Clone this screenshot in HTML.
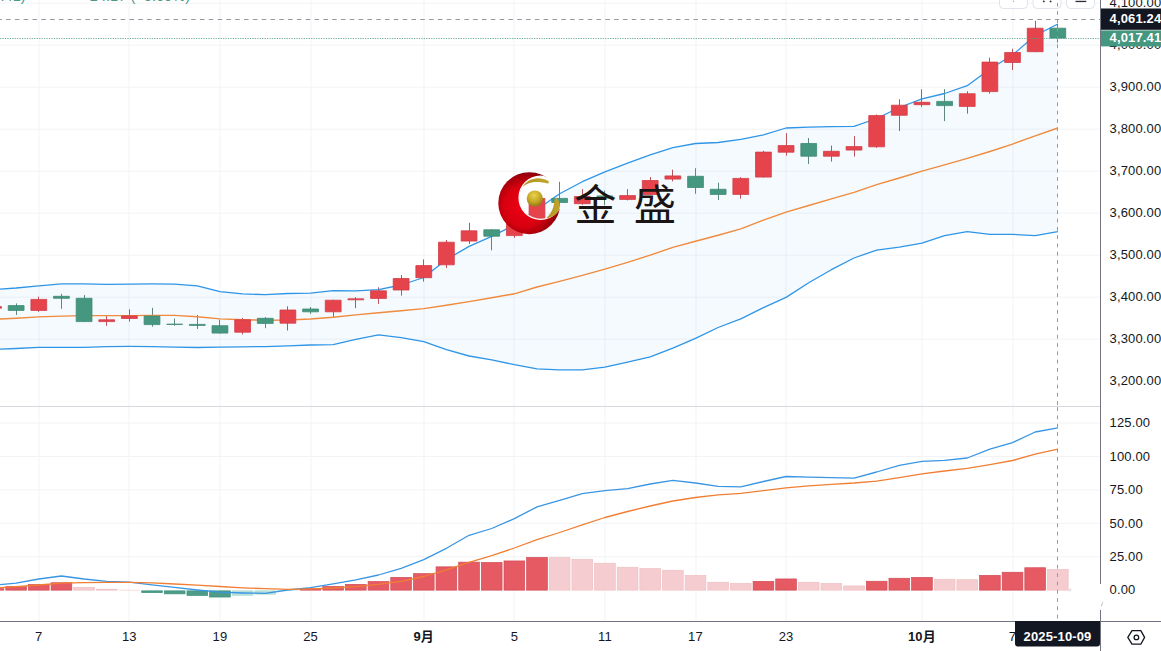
<!DOCTYPE html><html><head><meta charset="utf-8"><style>
html,body{margin:0;padding:0;background:#fff;width:1161px;height:651px;overflow:hidden}
svg{display:block}
.ax{letter-spacing:0.15px;font-family:"Liberation Sans","Noto Sans CJK SC",sans-serif;font-size:13px;fill:#131722}
</style></head><body>
<svg width="1161" height="651" viewBox="0 0 1161 651">
<defs>
<clipPath id="cm"><rect x="0" y="0" width="1100" height="406"/></clipPath>
<clipPath id="cl"><rect x="0" y="407" width="1100" height="214"/></clipPath>
<radialGradient id="rg" cx="0.42" cy="0.55" r="0.6"><stop offset="0" stop-color="#f00018"/><stop offset="0.55" stop-color="#d8000f"/><stop offset="1" stop-color="#7c0008"/></radialGradient>
<radialGradient id="gb" cx="0.45" cy="0.3" r="0.7"><stop offset="0" stop-color="#ecd24a"/><stop offset="0.6" stop-color="#c3a526"/><stop offset="1" stop-color="#8f7a12"/></radialGradient>
<linearGradient id="gs" x1="0" y1="0" x2="1" y2="0"><stop offset="0" stop-color="#b09520"/><stop offset="1" stop-color="#c2a52a"/></linearGradient>
<mask id="mk"><rect x="490" y="160" width="80" height="90" fill="#fff"/><circle cx="540.6" cy="197.7" r="21.5" fill="#000"/></mask>
</defs>
<path d="M0 3.2 H1100 M0 45.2 H1100 M0 87.2 H1100 M0 129.2 H1100 M0 171.2 H1100 M0 213.2 H1100 M0 255.2 H1100 M0 297.2 H1100 M0 339.2 H1100 M0 423.1 H1100 M0 456.5 H1100 M0 489.9 H1100 M0 523.3 H1100 M0 556.7 H1100 M39 0 V621 M129 0 V621 M220 0 V621 M311 0 V621 M424 0 V621 M514 0 V621 M605 0 V621 M696 0 V621 M786 0 V621 M922 0 V621 M1013 0 V621" stroke="#f2f3f6" stroke-width="1" fill="none"/>
<g clip-path="url(#cm)">
<polygon points="-29.14,291 16.15,288 38.8,285.8 61.44,283.9 84.09,283.9 106.73,284.3 129.38,284.1 152.02,283.9 174.67,284.1 197.31,285.8 219.96,291.7 242.61,293.8 265.25,294.7 287.89,293.5 310.54,293.2 333.19,290.6 355.83,290.9 378.48,289.6 401.12,285 423.76,277.5 446.41,259.5 469.06,246.4 491.7,236.3 514.35,225 536.99,209.5 559.63,193.8 582.28,181.7 604.92,171.8 627.57,163.1 650.21,154.8 672.86,147.6 695.5,143.5 718.15,142.5 740.79,139.4 763.44,134.8 786.08,128 808.73,127.2 831.37,126.7 854.02,126.4 876.66,118.5 899.31,107.5 921.95,98.9 944.6,93.5 967.24,85.7 989.89,69 1012.53,55 1035.18,35.5 1057.83,24 1057.83,231.7 1035.18,235.6 1012.53,234.4 989.89,234.4 967.24,231.7 944.6,235.6 921.95,243.2 899.31,247.1 876.66,250.1 854.02,258 831.37,269.7 808.73,282.8 786.08,297.4 763.44,307.7 740.79,318.8 718.15,327.5 695.5,338.4 672.86,348.2 650.21,356.9 627.57,362.1 604.92,367.2 582.28,369.9 559.63,369.9 536.99,368.8 514.35,364.7 491.7,359.8 469.06,356 446.41,349.6 423.76,341.6 401.12,337.6 378.48,334.8 355.83,339.4 333.19,344.6 310.54,345 287.89,345.9 265.25,346.6 242.61,346.8 219.96,347.1 197.31,347.5 174.67,347.1 152.02,346.6 129.38,346.4 106.73,346.6 84.09,347.4 61.44,347.3 38.8,347.3 16.15,348.5 -29.14,350.3" fill="#2196f3" fill-opacity="0.05"/>
<path d="M-6.5 305.5 V309.5 M38.5 296.6 V311.9 M106.5 315 V325.8 M129.5 309.3 V321.7 M242.5 317.9 V334.4 M287.5 306.3 V330.5 M333.5 299.8 V317.4 M355.5 297.2 V308.2 M378.5 287.3 V303.9 M401.5 275 V295.6 M423.5 259.4 V281.6 M446.5 240 V268 M469.5 222.8 V244 M514.5 220 V237.8 M536.5 195 V221 M582.5 189.1 V204.7 M627.5 189.1 V200.4 M650.5 177 V194.9 M672.5 169.7 V181.4 M740.5 177.2 V198.7 M763.5 150.7 V177.5 M786.5 133.2 V155.7 M831.5 145.6 V161.6 M854.5 136.1 V156.6 M876.5 114.5 V147.8 M899.5 99.2 V131 M921.5 89.3 V106.8 M967.5 91.2 V113.7 M989.5 57.6 V93.6 M1012.5 48.7 V70 M1035.5 20.8 V52.1" stroke="#b9555c" stroke-width="1" fill="none"/>
<path d="M16.5 303.4 V315 M61.5 293.8 V308.8 M84.5 295 V322 M152.5 307.8 V326.7 M174.5 318.6 V325.8 M197.5 315 V329 M219.5 319.6 V333.5 M265.5 317.1 V328.2 M310.5 307 V313.8 M491.5 229 V250.3 M559.5 181.8 V208 M604.5 190.6 V205.3 M695.5 168.2 V193.8 M718.5 182.7 V200 M808.5 138 V164 M944.5 89.1 V121.1 M1057.5 24 V42.6" stroke="#5e8a7e" stroke-width="1" fill="none"/>
<polyline points="-29.14,291 16.15,288 38.8,285.8 61.44,283.9 84.09,283.9 106.73,284.3 129.38,284.1 152.02,283.9 174.67,284.1 197.31,285.8 219.96,291.7 242.61,293.8 265.25,294.7 287.89,293.5 310.54,293.2 333.19,290.6 355.83,290.9 378.48,289.6 401.12,285 423.76,277.5 446.41,259.5 469.06,246.4 491.7,236.3 514.35,225 536.99,209.5 559.63,193.8 582.28,181.7 604.92,171.8 627.57,163.1 650.21,154.8 672.86,147.6 695.5,143.5 718.15,142.5 740.79,139.4 763.44,134.8 786.08,128 808.73,127.2 831.37,126.7 854.02,126.4 876.66,118.5 899.31,107.5 921.95,98.9 944.6,93.5 967.24,85.7 989.89,69 1012.53,55 1035.18,35.5 1057.83,24" fill="none" stroke="#2f95e6" stroke-width="1.3" stroke-linejoin="round"/>
<polyline points="-29.14,350.3 16.15,348.5 38.8,347.3 61.44,347.3 84.09,347.4 106.73,346.6 129.38,346.4 152.02,346.6 174.67,347.1 197.31,347.5 219.96,347.1 242.61,346.8 265.25,346.6 287.89,345.9 310.54,345 333.19,344.6 355.83,339.4 378.48,334.8 401.12,337.6 423.76,341.6 446.41,349.6 469.06,356 491.7,359.8 514.35,364.7 536.99,368.8 559.63,369.9 582.28,369.9 604.92,367.2 627.57,362.1 650.21,356.9 672.86,348.2 695.5,338.4 718.15,327.5 740.79,318.8 763.44,307.7 786.08,297.4 808.73,282.8 831.37,269.7 854.02,258 876.66,250.1 899.31,247.1 921.95,243.2 944.6,235.6 967.24,231.7 989.89,234.4 1012.53,234.4 1035.18,235.6 1057.83,231.7" fill="none" stroke="#2f95e6" stroke-width="1.3" stroke-linejoin="round"/>
<polyline points="-29.14,320.3 16.15,318.3 38.8,316.9 61.44,316.1 84.09,315.6 106.73,315.6 129.38,315.6 152.02,315.4 174.67,315.4 197.31,316.8 219.96,318.9 242.61,319.8 265.25,320.2 287.89,320 310.54,319 333.19,317.3 355.83,314.9 378.48,312.7 401.12,310.8 423.76,308.6 446.41,305.2 469.06,301.6 491.7,297.8 514.35,293.8 536.99,287 559.63,281.4 582.28,275.4 604.92,269.1 627.57,262.4 650.21,255.2 672.86,247.4 695.5,241.3 718.15,235.3 740.79,228.8 763.44,220.1 786.08,212.2 808.73,205.5 831.37,198.8 854.02,192.3 876.66,184.7 899.31,178 921.95,171.1 944.6,164.8 967.24,158.4 989.89,151.5 1012.53,144.1 1035.18,135.8 1057.83,128" fill="none" stroke="#f08a3c" stroke-width="1.4" stroke-linejoin="round"/>
<path d="M-14.39 306.6 h15.8 v1.6 h-15.8 Z M30.9 299.4 h15.8 v11 h-15.8 Z M98.84 319.8 h15.8 v1.8 h-15.8 Z M121.48 315.9 h15.8 v2.6 h-15.8 Z M234.71 319.8 h15.8 v12.4 h-15.8 Z M279.99 310 h15.8 v13.2 h-15.8 Z M325.28 300.2 h15.8 v11.6 h-15.8 Z M347.93 298.8 h15.8 v1 h-15.8 Z M370.57 290.8 h15.8 v7.6 h-15.8 Z M393.22 278.5 h15.8 v11.5 h-15.8 Z M415.86 265.6 h15.8 v12.1 h-15.8 Z M438.51 242.2 h15.8 v22.6 h-15.8 Z M461.15 230.8 h15.8 v10.3 h-15.8 Z M506.44 222.4 h15.8 v13.2 h-15.8 Z M529.09 198.4 h15.8 v20.6 h-15.8 Z M574.38 196.5 h15.8 v7.2 h-15.8 Z M619.67 195.6 h15.8 v3.8 h-15.8 Z M642.31 180.5 h15.8 v14 h-15.8 Z M664.96 175.9 h15.8 v3.2 h-15.8 Z M732.89 178.4 h15.8 v16 h-15.8 Z M755.54 152.1 h15.8 v25 h-15.8 Z M778.18 145.6 h15.8 v6.6 h-15.8 Z M823.47 151.3 h15.8 v4.9 h-15.8 Z M846.12 146.6 h15.8 v3.5 h-15.8 Z M868.76 115.6 h15.8 v31.2 h-15.8 Z M891.41 105.2 h15.8 v10.1 h-15.8 Z M914.05 102.3 h15.8 v2.4 h-15.8 Z M959.34 93.7 h15.8 v12.7 h-15.8 Z M981.99 62.1 h15.8 v29.5 h-15.8 Z M1004.63 52.5 h15.8 v10 h-15.8 Z M1027.28 28.2 h15.8 v23.5 h-15.8 Z" fill="#e5444d" stroke="#d23c45" stroke-width="0.8"/>
<path d="M8.25 305.6 h15.8 v4.8 h-15.8 Z M53.54 296.3 h15.8 v2 h-15.8 Z M76.19 298.3 h15.8 v23.3 h-15.8 Z M144.12 316.1 h15.8 v8.5 h-15.8 Z M166.77 324.2 h15.8 v0.2 h-15.8 Z M189.41 324.4 h15.8 v1 h-15.8 Z M212.06 325.7 h15.8 v7.4 h-15.8 Z M257.35 318.3 h15.8 v5.1 h-15.8 Z M302.64 309 h15.8 v2.8 h-15.8 Z M483.8 229.8 h15.8 v6.4 h-15.8 Z M551.74 198.4 h15.8 v4.1 h-15.8 Z M597.02 195.9 h15.8 v2.3 h-15.8 Z M687.61 176.3 h15.8 v11.2 h-15.8 Z M710.25 189.3 h15.8 v5.1 h-15.8 Z M800.83 143.5 h15.8 v12.7 h-15.8 Z M936.7 101.4 h15.8 v4.2 h-15.8 Z M1049.93 28.2 h15.8 v9.9 h-15.8 Z" fill="#46977f" stroke="#3d8a74" stroke-width="0.8"/>
<path d="M0 38.5 H1100" stroke="#4f9d8c" stroke-opacity="0.85" stroke-width="1" stroke-dasharray="1.2 1.25" fill="none"/>
<path d="M0 19.5 H1100" stroke="#9598a1" stroke-width="1" stroke-dasharray="4.5 4.313" stroke-dashoffset="2.713" fill="none"/>
</g>
<g clip-path="url(#cl)">
<rect x="-16.84" y="588.65" width="20.7" height="1.5" fill="#e55a63" stroke="#d24c57" stroke-width="0.7"/>
<rect x="5.8" y="586.65" width="20.7" height="3.5" fill="#e55a63" stroke="#d24c57" stroke-width="0.7"/>
<rect x="28.45" y="584.45" width="20.7" height="5.7" fill="#e55a63" stroke="#d24c57" stroke-width="0.7"/>
<rect x="51.09" y="582.75" width="20.7" height="7.4" fill="#e55a63" stroke="#d24c57" stroke-width="0.7"/>
<rect x="73.74" y="587.35" width="20.7" height="2.8" fill="#f5cdd0" stroke="#eebfc3" stroke-width="0.7"/>
<rect x="96.38" y="589.25" width="20.7" height="0.9" fill="#f5cdd0" stroke="#eebfc3" stroke-width="0.7"/>
<rect x="118.68" y="589.8" width="21.4" height="0.7" fill="#f5cdd0"/>
<rect x="141.67" y="590.85" width="20.7" height="1.8" fill="#4c9c88" stroke="#3f907c" stroke-width="0.7"/>
<rect x="164.32" y="590.85" width="20.7" height="3" fill="#4c9c88" stroke="#3f907c" stroke-width="0.7"/>
<rect x="186.97" y="590.85" width="20.7" height="4.6" fill="#4c9c88" stroke="#3f907c" stroke-width="0.7"/>
<rect x="209.61" y="590.85" width="20.7" height="6.2" fill="#4c9c88" stroke="#3f907c" stroke-width="0.7"/>
<rect x="232.26" y="590.85" width="20.7" height="4.4" fill="#b9e2da" stroke="#a9d8cf" stroke-width="0.7"/>
<rect x="254.9" y="590.85" width="20.7" height="3.3" fill="#b9e2da" stroke="#a9d8cf" stroke-width="0.7"/>
<rect x="277.19" y="590.5" width="21.4" height="0.5" fill="#b9e2da"/>
<rect x="300.19" y="588.65" width="20.7" height="1.5" fill="#e55a63" stroke="#d24c57" stroke-width="0.7"/>
<rect x="322.84" y="586.45" width="20.7" height="3.7" fill="#e55a63" stroke="#d24c57" stroke-width="0.7"/>
<rect x="345.48" y="584.35" width="20.7" height="5.8" fill="#e55a63" stroke="#d24c57" stroke-width="0.7"/>
<rect x="368.13" y="581.55" width="20.7" height="8.6" fill="#e55a63" stroke="#d24c57" stroke-width="0.7"/>
<rect x="390.77" y="577.35" width="20.7" height="12.8" fill="#e55a63" stroke="#d24c57" stroke-width="0.7"/>
<rect x="413.42" y="573.65" width="20.7" height="16.5" fill="#e55a63" stroke="#d24c57" stroke-width="0.7"/>
<rect x="436.06" y="566.85" width="20.7" height="23.3" fill="#e55a63" stroke="#d24c57" stroke-width="0.7"/>
<rect x="458.71" y="562.15" width="20.7" height="28" fill="#e55a63" stroke="#d24c57" stroke-width="0.7"/>
<rect x="481.35" y="562.45" width="20.7" height="27.7" fill="#e55a63" stroke="#d24c57" stroke-width="0.7"/>
<rect x="504" y="560.95" width="20.7" height="29.2" fill="#e55a63" stroke="#d24c57" stroke-width="0.7"/>
<rect x="526.64" y="557.45" width="20.7" height="32.7" fill="#e55a63" stroke="#d24c57" stroke-width="0.7"/>
<rect x="549.28" y="557.65" width="20.7" height="32.5" fill="#f5cdd0" stroke="#eebfc3" stroke-width="0.7"/>
<rect x="571.93" y="559.25" width="20.7" height="30.9" fill="#f5cdd0" stroke="#eebfc3" stroke-width="0.7"/>
<rect x="594.57" y="563.25" width="20.7" height="26.9" fill="#f5cdd0" stroke="#eebfc3" stroke-width="0.7"/>
<rect x="617.22" y="567.25" width="20.7" height="22.9" fill="#f5cdd0" stroke="#eebfc3" stroke-width="0.7"/>
<rect x="639.86" y="568.65" width="20.7" height="21.5" fill="#f5cdd0" stroke="#eebfc3" stroke-width="0.7"/>
<rect x="662.51" y="570.25" width="20.7" height="19.9" fill="#f5cdd0" stroke="#eebfc3" stroke-width="0.7"/>
<rect x="685.15" y="575.35" width="20.7" height="14.8" fill="#f5cdd0" stroke="#eebfc3" stroke-width="0.7"/>
<rect x="707.8" y="582.25" width="20.7" height="7.9" fill="#f5cdd0" stroke="#eebfc3" stroke-width="0.7"/>
<rect x="730.44" y="583.45" width="20.7" height="6.7" fill="#f5cdd0" stroke="#eebfc3" stroke-width="0.7"/>
<rect x="753.09" y="581.35" width="20.7" height="8.8" fill="#e55a63" stroke="#d24c57" stroke-width="0.7"/>
<rect x="775.73" y="578.95" width="20.7" height="11.2" fill="#e55a63" stroke="#d24c57" stroke-width="0.7"/>
<rect x="798.38" y="582.25" width="20.7" height="7.9" fill="#f5cdd0" stroke="#eebfc3" stroke-width="0.7"/>
<rect x="821.02" y="583.45" width="20.7" height="6.7" fill="#f5cdd0" stroke="#eebfc3" stroke-width="0.7"/>
<rect x="843.67" y="585.95" width="20.7" height="4.2" fill="#f5cdd0" stroke="#eebfc3" stroke-width="0.7"/>
<rect x="866.31" y="581.25" width="20.7" height="8.9" fill="#e55a63" stroke="#d24c57" stroke-width="0.7"/>
<rect x="888.96" y="578.25" width="20.7" height="11.9" fill="#e55a63" stroke="#d24c57" stroke-width="0.7"/>
<rect x="911.6" y="577.35" width="20.7" height="12.8" fill="#e55a63" stroke="#d24c57" stroke-width="0.7"/>
<rect x="934.25" y="579.25" width="20.7" height="10.9" fill="#f5cdd0" stroke="#eebfc3" stroke-width="0.7"/>
<rect x="956.89" y="579.75" width="20.7" height="10.4" fill="#f5cdd0" stroke="#eebfc3" stroke-width="0.7"/>
<rect x="979.54" y="575.35" width="20.7" height="14.8" fill="#e55a63" stroke="#d24c57" stroke-width="0.7"/>
<rect x="1002.18" y="572.25" width="20.7" height="17.9" fill="#e55a63" stroke="#d24c57" stroke-width="0.7"/>
<rect x="1024.83" y="567.75" width="20.7" height="22.4" fill="#e55a63" stroke="#d24c57" stroke-width="0.7"/>
<rect x="1047.47" y="569.45" width="20.7" height="20.7" fill="#f5cdd0" stroke="#eebfc3" stroke-width="0.7"/>
<polyline points="-29.14,587.5 16.15,583.1 38.8,579 61.44,576 84.09,579 106.73,581.4 129.38,582.1 152.02,584.9 174.67,587.4 197.31,590 219.96,592.2 242.61,593 265.25,593.3 287.89,590 310.54,587.6 333.19,583.8 355.83,579.9 378.48,575 401.12,568.3 423.76,559.6 446.41,548.3 469.06,535.3 491.7,528.5 514.35,518.7 536.99,506.9 559.63,500.3 582.28,493.6 604.92,490.6 627.57,488.6 650.21,484 672.86,480.4 695.5,483 718.15,486.4 740.79,486.9 763.44,481.5 786.08,476.5 808.73,477.2 831.37,477.6 854.02,478.1 876.66,472 899.31,465.3 921.95,461.4 944.6,460.4 967.24,458 989.89,449.2 1012.53,442.6 1035.18,432 1057.83,427.8" fill="none" stroke="#3a96e3" stroke-width="1.3" stroke-linejoin="round"/>
<polyline points="-29.14,589.5 16.15,586.7 38.8,585 61.44,583.1 84.09,582.7 106.73,582.4 129.38,582.4 152.02,582.9 174.67,584 197.31,585.2 219.96,586.5 242.61,587.8 265.25,588.7 287.89,589.3 310.54,588.9 333.19,588 355.83,586.6 378.48,584.4 401.12,581.4 423.76,576.5 446.41,569.8 469.06,562.3 491.7,555.6 514.35,548 536.99,539.6 559.63,532.5 582.28,524.9 604.92,517.5 627.57,511.5 650.21,506 672.86,501 695.5,497.5 718.15,494.8 740.79,493.3 763.44,490.7 786.08,487.9 808.73,485.8 831.37,484.3 854.02,483 876.66,481.1 899.31,477.6 921.95,473.9 944.6,471 967.24,468.3 989.89,464.6 1012.53,460.5 1035.18,454.2 1057.83,449.1" fill="none" stroke="#f07f35" stroke-width="1.3" stroke-linejoin="round"/>
</g>
<path d="M1057.5 2.8 V406" stroke="#9598a1" stroke-width="1" stroke-dasharray="3.8 4.5" fill="none"/>
<path d="M1057.5 407.2 V621" stroke="#9598a1" stroke-width="1" stroke-dasharray="3.8 4.5" fill="none"/>
<path d="M0 406.5 H1161" stroke="#d6d8de" stroke-width="1"/>
<g>
<circle cx="529.3" cy="203.2" r="31" fill="url(#rg)" mask="url(#mk)"/>
<clipPath id="oc"><circle cx="529.3" cy="203.2" r="31"/></clipPath>
<circle cx="540.6" cy="197.7" r="21.6" fill="none" stroke="#fff" stroke-width="1.2" clip-path="url(#oc)"/>
<path transform="translate(0,0.7)" d="M522.6,186.2 C526,180.5 531,178 536,177.7 C541,177.5 545,178.5 548.3,180.2 C549.4,181 549,182.8 547.5,182.8 C543,181.6 539,181.1 535,181.4 C530,181.9 526,183.6 522.6,186.2 Z" fill="url(#gs)"/>
<circle cx="534.8" cy="198.6" r="8.1" fill="url(#gb)"/>
<path d="M555.5,197.8 C559.5,199.5 560.5,205 559,209.5 C557,214.5 552,217.8 546.3,218.2 C549.5,215 552.5,211 553.6,206 C554.3,203 554.3,200 555.5,197.8 Z" fill="url(#gs)"/>
</g>
<text x="574.2" y="219.8" font-family="'Liberation Sans','Noto Sans CJK SC',sans-serif" font-size="42.3" fill="#1a1414" letter-spacing="17.3">金盛</text>
<rect x="1100" y="0" width="61" height="651" fill="#fff"/>
<path d="M1100.5 0 V584 M1100.5 610 V651" stroke="#737682" stroke-width="1"/>
<text class="ax" x="1109.5" y="6.9">4,100.00</text>
<text class="ax" x="1109.5" y="48.9">4,000.00</text>
<text class="ax" x="1109.5" y="90.9">3,900.00</text>
<text class="ax" x="1109.5" y="132.9">3,800.00</text>
<text class="ax" x="1109.5" y="174.9">3,700.00</text>
<text class="ax" x="1109.5" y="216.9">3,600.00</text>
<text class="ax" x="1109.5" y="258.9">3,500.00</text>
<text class="ax" x="1109.5" y="300.9">3,400.00</text>
<text class="ax" x="1109.5" y="342.9">3,300.00</text>
<text class="ax" x="1109.5" y="384.9">3,200.00</text>
<text class="ax" x="1109.5" y="427.3">125.00</text>
<text class="ax" x="1109.5" y="460.7">100.00</text>
<text class="ax" x="1109.5" y="494.1">75.00</text>
<text class="ax" x="1109.5" y="527.5">50.00</text>
<text class="ax" x="1109.5" y="560.9">25.00</text>
<text class="ax" x="1109.5" y="594.3">0.00</text>
<rect x="1101" y="30.4" width="60" height="16" fill="#46977f"/>
<text class="ax" x="1109.5" y="42.3" style="fill:#fff;font-weight:bold">4,017.41</text>
<rect x="1101" y="8.5" width="60" height="21.3" fill="#131722"/>
<text class="ax" x="1109.5" y="23.2" style="fill:#fff;font-weight:bold">4,061.24</text>
<path d="M1069.2 591.2 L1070.8 588.6 M1101.2 606.4 L1102.8 602.4" stroke="#aeb1b9" stroke-width="0.8" fill="none"/>
<rect x="0" y="621" width="1161" height="30" fill="#fff"/>
<path d="M0 621.5 H1161" stroke="#737682" stroke-width="1"/>
<path d="M1100.5 621 V651" stroke="#737682" stroke-width="1"/>
<text class="ax" x="38.8" y="641" text-anchor="middle">7</text>
<text class="ax" x="129.38" y="641" text-anchor="middle">13</text>
<text class="ax" x="219.96" y="641" text-anchor="middle">19</text>
<text class="ax" x="310.54" y="641" text-anchor="middle">25</text>
<text class="ax" x="423.76" y="641" text-anchor="middle" style="font-weight:bold">9月</text>
<text class="ax" x="514.35" y="641" text-anchor="middle">5</text>
<text class="ax" x="604.92" y="641" text-anchor="middle">11</text>
<text class="ax" x="695.5" y="641" text-anchor="middle">17</text>
<text class="ax" x="786.08" y="641" text-anchor="middle">23</text>
<text class="ax" x="921.95" y="641" text-anchor="middle" style="font-weight:bold">10月</text>
<text class="ax" x="1012.53" y="641" text-anchor="middle">7</text>
<path d="M1015 621 H1100 V643.5 a3 3 0 0 1 -3 3 H1018 a3 3 0 0 1 -3 -3 Z" fill="#131722"/>
<text class="ax" x="1057.5" y="641" text-anchor="middle" style="fill:#fff;font-weight:bold">2025-10-09</text>
<path d="M1127.8 637.4 L1132 630.6 H1140.8 L1144.6 637.4 L1140.8 644.2 H1132 Z" fill="none" stroke="#131722" stroke-width="1.3" stroke-linejoin="round"/>
<circle cx="1136.4" cy="637.4" r="2.3" fill="none" stroke="#131722" stroke-width="1.3"/>
<text x="-36" y="1.3" font-family="Liberation Sans,sans-serif" font-size="14.6" fill="#4a9a86">4,017.41)</text>
<text x="81.3" y="1.3" font-family="Liberation Sans,sans-serif" font-size="14.6" fill="#4a9a86">−24.17 (−0.60%)</text>
<rect x="999.5" y="-10" width="28" height="18.5" rx="4" fill="#fff" stroke="#e0e3eb" stroke-width="1"/>
<rect x="1033" y="-10" width="28" height="18.5" rx="4" fill="#fff" stroke="#e0e3eb" stroke-width="1"/>
<rect x="1066.5" y="-10" width="28" height="18.5" rx="4" fill="#fff" stroke="#e0e3eb" stroke-width="1"/>
<rect x="1075.5" y="0.8" width="10.8" height="1.3" fill="#2a2e39"/>
<circle cx="1043.8" cy="1.4" r="0.95" fill="#2a2e39"/><circle cx="1050.6" cy="1.4" r="0.95" fill="#2a2e39"/>
<circle cx="1013.5" cy="1.2" r="0.6" fill="#9a9ca5"/>
<path d="M1057.5 2.8 V9" stroke="#9598a1" stroke-width="1" stroke-dasharray="3.8 4.5" fill="none"/>
</svg></body></html>
